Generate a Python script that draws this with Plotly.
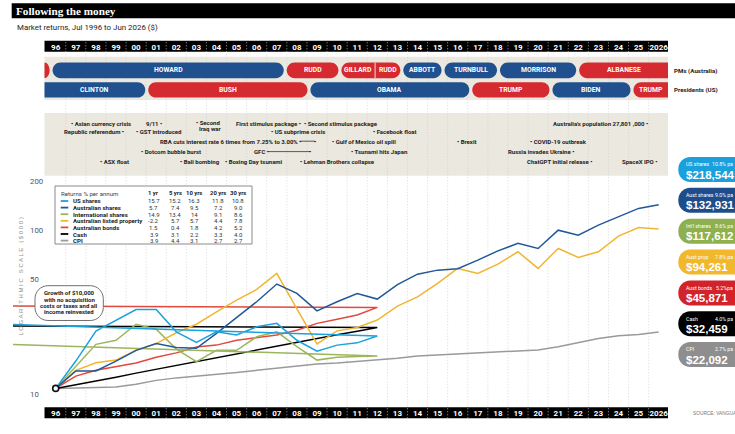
import math
import plotly.graph_objects as go

W, H = 735, 434

# ---------------- data ----------------
years_full = list(range(1996, 2027))
year_labels = ["96", "97", "98", "99", "00", "01", "02", "03", "04", "05", "06", "07", "08", "09",
               "10", "11", "12", "13", "14", "15", "16", "17", "18", "19", "20", "21", "22", "23",
               "24", "25", "2026"]
# truncated series end in 2012 and wrap back to a point left of the chart
years_short = list(range(1996, 2013)) + [1993]

us_shares = [10, 14.7, 22.4, 26.2, 30.4, 30.4, 22.2, 19.1, 22.2, 21.2, 23.8, 25.0, 19.7, 16.9, 18.4, 19.0, 20.9, 24.8]
intl_shares = [10, 13.6, 18.6, 19.7, 24.7, 23.0, 17.4, 14.6, 17.1, 17.1, 20.7, 22.2, 18.0, 14.9, 15.5, 15.7, 15.8, 18.7]
aust_bonds = [10, 11.9, 12.9, 13.6, 14.3, 15.5, 16.5, 17.9, 18.4, 19.7, 20.4, 21.2, 22.7, 25.0, 26.5, 28.1, 31.3, 31.9]
cash = [10, 10.5, 11.1, 11.7, 12.4, 13.1, 13.8, 14.5, 15.3, 16.2, 17.1, 18.1, 19.2, 20.2, 21.3, 22.4, 23.6, 24.1]
aust_shares = [10, 12.8, 12.8, 14.7, 17.1, 18.8, 17.8, 17.6, 21.7, 27.2, 33.9, 43.5, 38.1, 29.8, 33.9, 38.1,
               35.2, 43.1, 50.0, 52.9, 53.9, 60.9, 69.4, 77.1, 71.8, 92.9, 86.6, 99.7, 112.1, 126.2, 132.9]
aust_prop = [10, 12.9, 14.35, 14.9, 17.1, 18.8, 21.9, 24.7, 29.4, 34.7, 40.3, 50.5, 30.7, 18.7, 22.5, 23.6,
             26.2, 31.9, 36.3, 43.9, 54.2, 50.5, 57.6, 68.5, 54.2, 71.8, 63.3, 68.5, 85.4, 96.5, 94.3]
cpi = [10, 10.1, 10.2, 10.2, 10.6, 11.2, 11.6, 11.9, 12.1, 12.5, 12.9, 13.3, 13.7, 14.1, 14.3, 14.6,
       14.9, 15.3, 15.8, 16.0, 16.2, 16.5, 16.7, 17.0, 17.2, 18.0, 19.0, 20.2, 21.0, 21.4, 22.1]

y_ticks = [10, 50, 100, 200]

table_series = ["US shares", "Australian shares", "International shares", "Australian listed property",
                "Australian bonds", "Cash", "CPI"]
table_periods = ["1 yr", "5 yrs", "10 yrs", "20 yrs", "30 yrs"]
table_values = [
    ["15.7", "15.2", "16.3", "11.8", "10.8"],
    ["5.7", "7.4", "9.5", "7.2", "9.0"],
    ["14.9", "13.4", "14", "9.1", "8.6"],
    ["-2.2", "5.7", "5.7", "4.4", "7.8"],
    ["1.5", "0.4", "1.8", "4.2", "5.2"],
    ["3.9", "3.1", "2.2", "3.3", "4.0"],
    ["3.9", "4.4", "3.1", "2.7", "2.7"],
]

end_labels = ["US shares", "Aust shares", "Int'l shares", "Aust prop", "Aust bonds", "Cash", "CPI"]
end_rates = ["10.8% pa", "9.0% pa", "8.6% pa", "7.8% pa", "5.2%pa", "4.0% pa", "2.7% pa"]
end_values = ["$218,544", "$132,931", "$117,612", "$94,261", "$45,871", "$32,459", "$22,092"]

pm_names = ["KEATING", "HOWARD", "RUDD", "GILLARD", "RUDD", "ABBOTT", "TURNBULL", "MORRISON", "ALBANESE"]
pm_start = [1991.96, 1996.27, 2007.92, 2010.64, 2012.39, 2013.72, 2015.77, 2018.53, 2022.47]
pm_end = [1996.27, 2007.92, 2010.64, 2012.39, 2013.72, 2015.77, 2018.53, 2022.47, 2028.0]
pm_party = ["Labor", "Liberal", "Labor", "Labor", "Labor", "Liberal", "Liberal", "Liberal", "Labor"]
pm_joined = [False, False, False, False, True, False, False, False, False]

pres_names = ["CLINTON", "BUSH", "OBAMA", "TRUMP", "BIDEN", "TRUMP"]
pres_start = [1993.05, 2001.03, 2009.10, 2017.15, 2021.14, 2025.17]
pres_end = [2001.03, 2009.10, 2017.15, 2021.14, 2025.17, 2029.05]
pres_party = ["Democrat", "Republican", "Democrat", "Republican", "Democrat", "Republican"]

# events: label, date, row, bullet side
ev_labels = ["Asian currency crisis", "9/11", "Second\nIraq war", "First stimulus package",
             "Second stimulus package", "Australia's population 27,801 ,000",
             "Republic referendum", "GST introduced", "US subprime crisis", "Facebook float",
             "Gulf of Mexico oil spill", "Brexit", "COVID-19 outbreak",
             "Dotcom bubble burst", "Tsunami hits Japan", "Russia invades Ukraine",
             "ASX float", "Bali bombing", "Boxing Day tsunami", "Lehman Brothers collapse",
             "ChatGPT initial release", "SpaceX IPO"]
ev_dates = [1997.29, 2001.74, 2003.53, 2008.63, 2008.88, 2025.92,
            1999.85, 2000.54, 2007.26, 2012.34,
            2010.30, 2016.51, 2020.14,
            2000.79, 2011.24, 2022.24,
            1998.75, 2002.73, 2004.95, 2008.68,
            2023.13, 2026.37]
ev_rows = [0, 0, 0, 0, 0, 0, 1, 1, 1, 1, 2, 2, 2, 3, 3, 3, 4, 4, 4, 4, 4, 4]
ev_side = ["before", "after", "before", "after", "before", "after",
           "after", "before", "before", "before",
           "before", "before", "before",
           "before", "before", "after",
           "before", "before", "before", "before",
           "after", "after"]
range_labels = ["RBA cuts interest rate 6 times from 7.25% to 3.00%", "GFC"]
range_start = [2008.63, 2007.06]
range_end = [2009.40, 2009.15]
range_rows = [2, 3]

# ---------------- styling / geometry ----------------
NARROW = "Roboto, Liberation Sans, sans-serif"
SANS = "Liberation Sans, Arial, sans-serif"
SERIF = "Liberation Serif, Times New Roman, serif"

C_US, C_AU, C_INT, C_PROP, C_BOND, C_CASH, C_CPI = "#1aa2dd", "#22579a", "#9bb65c", "#f0b632", "#e2483b", "#000000", "#9a9a9a"
series_colors = [C_US, C_AU, C_INT, C_PROP, C_BOND, C_CASH, C_CPI]
pill_colors = ["#1aa0dc", "#1f4d8c", "#8fb04f", "#f1b82d", "#d3232a", "#000000", "#8e8e8e"]
party_color = {"Labor": "#d42a30", "Liberal": "#21508f", "Democrat": "#21508f", "Republican": "#d42a30"}
BEIGE = "#eae8df"

L, R = 13, 668
X96, PPY = 55.7, 20.1
BAND_L, BAND_R = 44.5, 668

def xv(px):  # pixel -> x data
    return 1996 + (px - X96) / PPY

def dpx(date):  # date -> pixel (year labels sit at July)
    return X96 + (date - 0.5 - 1996) * PPY

def xp(px):
    return (px - L) / (R - L)

def yp(py):
    return 1 - py / H

Y_TOP_PX, Y_BOT_PX, K = 175.7, 405.0, 163.5
LOG_TOP = math.log10(200)
LOG_BOT = LOG_TOP - (Y_BOT_PX - Y_TOP_PX) / K

def ylog(py):
    return LOG_TOP - (py - Y_TOP_PX) / K

def rrect(x0, y0, x1, y1, rl, rr, ry, fx, fy):
    k = 0.5523
    cmds = [("M", [(x0 + rl, y0)]), ("L", [(x1 - rr, y0)])]
    if rr > 0:
        cmds.append(("C", [(x1 - rr + k * rr, y0), (x1, y0 + ry - k * ry), (x1, y0 + ry)]))
        cmds.append(("L", [(x1, y1 - ry)]))
        cmds.append(("C", [(x1, y1 - ry + k * ry), (x1 - rr + k * rr, y1), (x1 - rr, y1)]))
    else:
        cmds.append(("L", [(x1, y1)]))
    cmds.append(("L", [(x0 + rl, y1)]))
    if rl > 0:
        cmds.append(("C", [(x0 + rl - k * rl, y1), (x0, y1 - ry + k * ry), (x0, y1 - ry)]))
        cmds.append(("L", [(x0, y0 + ry)]))
        cmds.append(("C", [(x0, y0 + ry - k * ry), (x0 + rl - k * rl, y0), (x0 + rl, y0)]))
    else:
        cmds.append(("L", [(x0, y0)]))
    return " ".join(c + " ".join(f"{fx(x):.6f},{fy(y):.6f}" for x, y in pts) for c, pts in cmds) + " Z"

shapes = []
annotations = []

def rect_px(x0, y0, x1, y1, fill, layer="below", line=None):
    shapes.append(dict(type="rect", xref="paper", yref="paper", x0=xp(x0), x1=xp(x1), y0=yp(y1), y1=yp(y0),
                       fillcolor=fill, line=line or dict(width=0), layer=layer))

def ann(text, x, y, size, color="#222", family=NARROW, xanchor="left", xref="paper", yref="paper", **kw):
    annotations.append(dict(text=text, x=x, y=y, xref=xref, yref=yref, showarrow=False, xanchor=xanchor,
                            yanchor="middle", font=dict(size=size, color=color, family=family), borderpad=0, **kw))

# title & subtitle
rect_px(11.7, 3.3, 745, 18.3, "#000000")
ann("<b>Following the money</b>", xp(15), yp(11), 11.2, "#ffffff", SERIF)
ann("Market returns, Jul 1996 to Jun 2026 ($)", xp(16), yp(27.8), 7.9, "#222222", NARROW)

# bands and bars
rect_px(BAND_L, 40.7, BAND_R, 51.7, "#000000")
rect_px(BAND_L, 56.7, BAND_R, 100, BEIGE)
rect_px(BAND_L, 113, BAND_R, 175.7, BEIGE)
rect_px(BAND_L, 407.3, BAND_R, 418.3, "#000000")

# vertical dotted year separators
for yr in years_full[:-1]:
    shapes.append(dict(type="line", xref="x", yref="paper", x0=yr + 0.5, x1=yr + 0.5, y0=yp(418.3), y1=yp(40.7),
                       line=dict(color="#cfcfcf", width=0.8, dash="1px,2px"), layer="below"))

# horizontal log grid lines
for v in y_ticks:
    shapes.append(dict(type="line", xref="paper", yref="y", x0=xp(28), x1=1, y0=math.log10(v), y1=math.log10(v),
                       line=dict(color="#a8a8a8", width=1.4), layer="below"))

# leader pills (PMs / presidents)
def draw_pills(names, starts, ends, parties, joined, y0, y1):
    n = len(names)
    ry = (y1 - y0) / 2
    for i in range(n):
        x0 = dpx(starts[i]) + 1.5
        x1 = dpx(ends[i]) - 1.5
        rl = rr = ry
        if joined[i]:
            x0 = dpx(starts[i]); rl = 0
        if i + 1 < n and joined[i + 1]:
            x1 = dpx(ends[i]); rr = 0
        if x0 < BAND_L:
            x0 = BAND_L; rl = 0
        if x1 > BAND_R:
            x1 = BAND_R; rr = 0
        rl = min(rl, x1 - x0); rr = min(rr, x1 - x0)
        shapes.append(dict(type="path", xref="x", yref="paper",
                           path=rrect(x0, y0, x1, y1, rl, rr, ry, xv, yp),
                           fillcolor=party_color[parties[i]], line=dict(width=0), layer="below"))
        if joined[i]:
            shapes.append(dict(type="line", xref="x", yref="paper", x0=xv(x0), x1=xv(x0), y0=yp(y1), y1=yp(y0),
                               line=dict(color="#ffffff", width=0.8), layer="below"))
        if x1 - x0 > 15:
            ann(f"<b>{names[i]}</b>", xv((x0 + x1) / 2), yp((y0 + y1) / 2), 6.8, "#ffffff", NARROW,
                xanchor="center", xref="x")

draw_pills(pm_names, pm_start, pm_end, pm_party, pm_joined, 62.5, 78.2)
draw_pills(pres_names, pres_start, pres_end, pres_party, [False] * len(pres_names), 82.3, 97.6)
ann("<b>PMs (Australia)</b>", xp(673), yp(70.5), 6.2, "#222222")
ann("<b>Presidents (US)</b>", xp(673), yp(90), 6.2, "#222222")

# events
EV_SIZE = 6.0
row_y = [123.6, 131.8, 141.2, 151.6, 161.8]
for lab, d, r, side in zip(ev_labels, ev_dates, ev_rows, ev_side):
    lines = lab.split("\n")
    for j, ln in enumerate(lines):
        if j == 0:
            txt = f"<b>\u2022 {ln}</b>" if side == "before" else f"<b>{ln} \u2022</b>"
        else:
            txt = f"<b>{ln}</b>"
        xpix = dpx(d) - 2 if side == "before" else dpx(d) + 2
        ypix = row_y[r] + 5.6 * j - (1.0 if len(lines) > 1 else 0)
        if j > 0:
            xpix += 3.0
        ann(txt, xv(xpix), yp(ypix), EV_SIZE, "#222222", NARROW,
            xanchor="left" if side == "before" else "right", xref="x")
for lab, s, e, r in zip(range_labels, range_start, range_end, range_rows):
    ann(f"<b>{lab} \u2022</b>", xv(dpx(s) + 2), yp(row_y[r]), EV_SIZE, "#222222", NARROW, xanchor="right", xref="x")
    shapes.append(dict(type="line", xref="x", yref="paper", x0=s - 0.5, x1=e - 0.5, y0=yp(row_y[r]), y1=yp(row_y[r]),
                       line=dict(color="#333333", width=0.8), layer="above"))
    ann("<b>\u2022</b>", xv(dpx(e)), yp(row_y[r]), EV_SIZE, "#222222", NARROW, xanchor="center", xref="x")

# returns table
rect_px(55, 186, 252, 244, "#ffffff", layer="above", line=dict(color="#8a8a8a", width=1))
col_x = [153.5, 175, 194.3, 218, 238]
ann("Returns % per annum", xp(60), yp(193.3), 6.1, "#444444")
for cx, per in zip(col_x, table_periods):
    ann(f"<b>{per}</b>", xp(cx), yp(193.3), 5.9, "#222222", xanchor="center")
for i, (name, vals) in enumerate(zip(table_series, table_values)):
    ry_ = 201 + i * 6.6
    shapes.append(dict(type="line", xref="paper", yref="paper", x0=xp(60.7), x1=xp(68.3), y0=yp(ry_), y1=yp(ry_),
                       line=dict(color=series_colors[i], width=1.8), layer="above"))
    ann(f"<b>{name}</b>", xp(71.5), yp(ry_), 6.1, "#222222")
    for cx, v in zip(col_x, vals):
        ann(v, xp(cx), yp(ry_), 6.0, "#333333", xanchor="center")

# growth callout
shapes.append(dict(type="line", xref="x", yref="y", x0=years_full[0], x1=years_full[0], y0=math.log10(aust_shares[0]),
                   y1=ylog(320.5), line=dict(color="#808080", width=1), layer="below"))
shapes.append(dict(type="path", xref="paper", yref="paper", path=rrect(35, 285.7, 103.3, 320.5, 13, 13, 13, xp, yp),
                   fillcolor="#ffffff", line=dict(color="#707070", width=1), layer="above"))
for j, ln in enumerate(["Growth of $10,000", "with no acquisition", "costs or taxes and all", "income reinvested"]):
    ann(f"<b>{ln}</b>", xp(69.2), yp(292.6 + j * 6.4), 6.0, "#222222", xanchor="center")

# y axis title
ann("L O G A R I T H M I C   S C A L E   ( $ 0 0 0 )", xp(20.5), yp(277), 6.0, "#8c8c8c", SANS,
    xanchor="center", textangle=-90)

# end-value pills
for i in range(7):
    top = 157 + i * 30.85
    shapes.append(dict(type="path", xref="paper", yref="paper", path=rrect(678.3, top, 745, top + 25, 12, 0, 12, xp, yp),
                       fillcolor=pill_colors[i], line=dict(width=0), layer="below"))
    ann(end_labels[i], xp(685), yp(top + 7.3), 5.2, "#ffffff", NARROW)
    ann(end_rates[i], xp(733.5), yp(top + 7.3), 5.2, "#ffffff", NARROW, xanchor="right")
    ann(f"<b>{end_values[i]}</b>", xp(684.5), yp(top + 17.6), 11.5, "#ffffff", SANS)

ann("SOURCE: VANGUARD", xp(691.5), yp(413.3), 4.8, "#777777", SANS)

# ---------------- traces ----------------
fig = go.Figure()
series = [
    ("CPI", years_full, cpi, C_CPI),
    ("Cash", years_short, cash, C_CASH),
    ("Australian bonds", years_short, aust_bonds, C_BOND),
    ("International shares", years_short, intl_shares, C_INT),
    ("Australian listed property", years_full, aust_prop, C_PROP),
    ("Australian shares", years_full, aust_shares, C_AU),
    ("US shares", years_short, us_shares, C_US),
]
for name, xs, ys, col in series:
    fig.add_trace(go.Scatter(x=xs, y=ys, mode="lines", name=name, line=dict(color=col, width=1.5),
                             hoverinfo="skip", showlegend=False))
fig.add_trace(go.Scatter(x=[years_full[0]], y=[aust_shares[0]], mode="markers", showlegend=False, hoverinfo="skip",
                         marker=dict(size=6, color="#ffffff", line=dict(color="#111111", width=1.6))))
fig.add_trace(go.Scatter(x=[years_full[0]], y=[aust_shares[0]], mode="markers", showlegend=False, hoverinfo="skip",
                         xaxis="x2", marker=dict(size=1, opacity=0)))

xrange = [xv(L), xv(R)]
tickfont = dict(family=NARROW, size=8, color="#ffffff", weight="bold")
fig.update_layout(
    width=W, height=H, margin=dict(l=L, r=W - R, t=0, b=0),
    paper_bgcolor="#ffffff", plot_bgcolor="rgba(0,0,0,0)", template="none",
    showlegend=False,
    xaxis=dict(range=xrange, tickvals=years_full, ticktext=year_labels, anchor="free", position=yp(407.0),
               side="bottom", showgrid=False, zeroline=False, showline=False, ticks="", tickfont=tickfont,
               automargin=False, fixedrange=True),
    xaxis2=dict(range=xrange, tickvals=years_full, ticktext=year_labels, overlaying="x", anchor="free",
                position=yp(52.0), side="top", showgrid=False, zeroline=False, showline=False, ticks="",
                tickfont=tickfont, automargin=False, fixedrange=True),
    yaxis=dict(type="log", range=[LOG_BOT, LOG_TOP], domain=[yp(Y_BOT_PX), yp(Y_TOP_PX)],
               tickvals=y_ticks, ticktext=[str(v) for v in y_ticks], anchor="free", position=xp(26),
               ticklabelposition="inside bottom", showgrid=False, zeroline=False, showline=False, ticks="",
               tickfont=dict(family=NARROW, size=7.8, color="#555555"), automargin=False, fixedrange=True),
    shapes=shapes, annotations=annotations,
)
fig.write_html("out.html", config={"displayModeBar": False},
               post_script="document.body.style.margin='0px';document.body.style.overflow='hidden';")
